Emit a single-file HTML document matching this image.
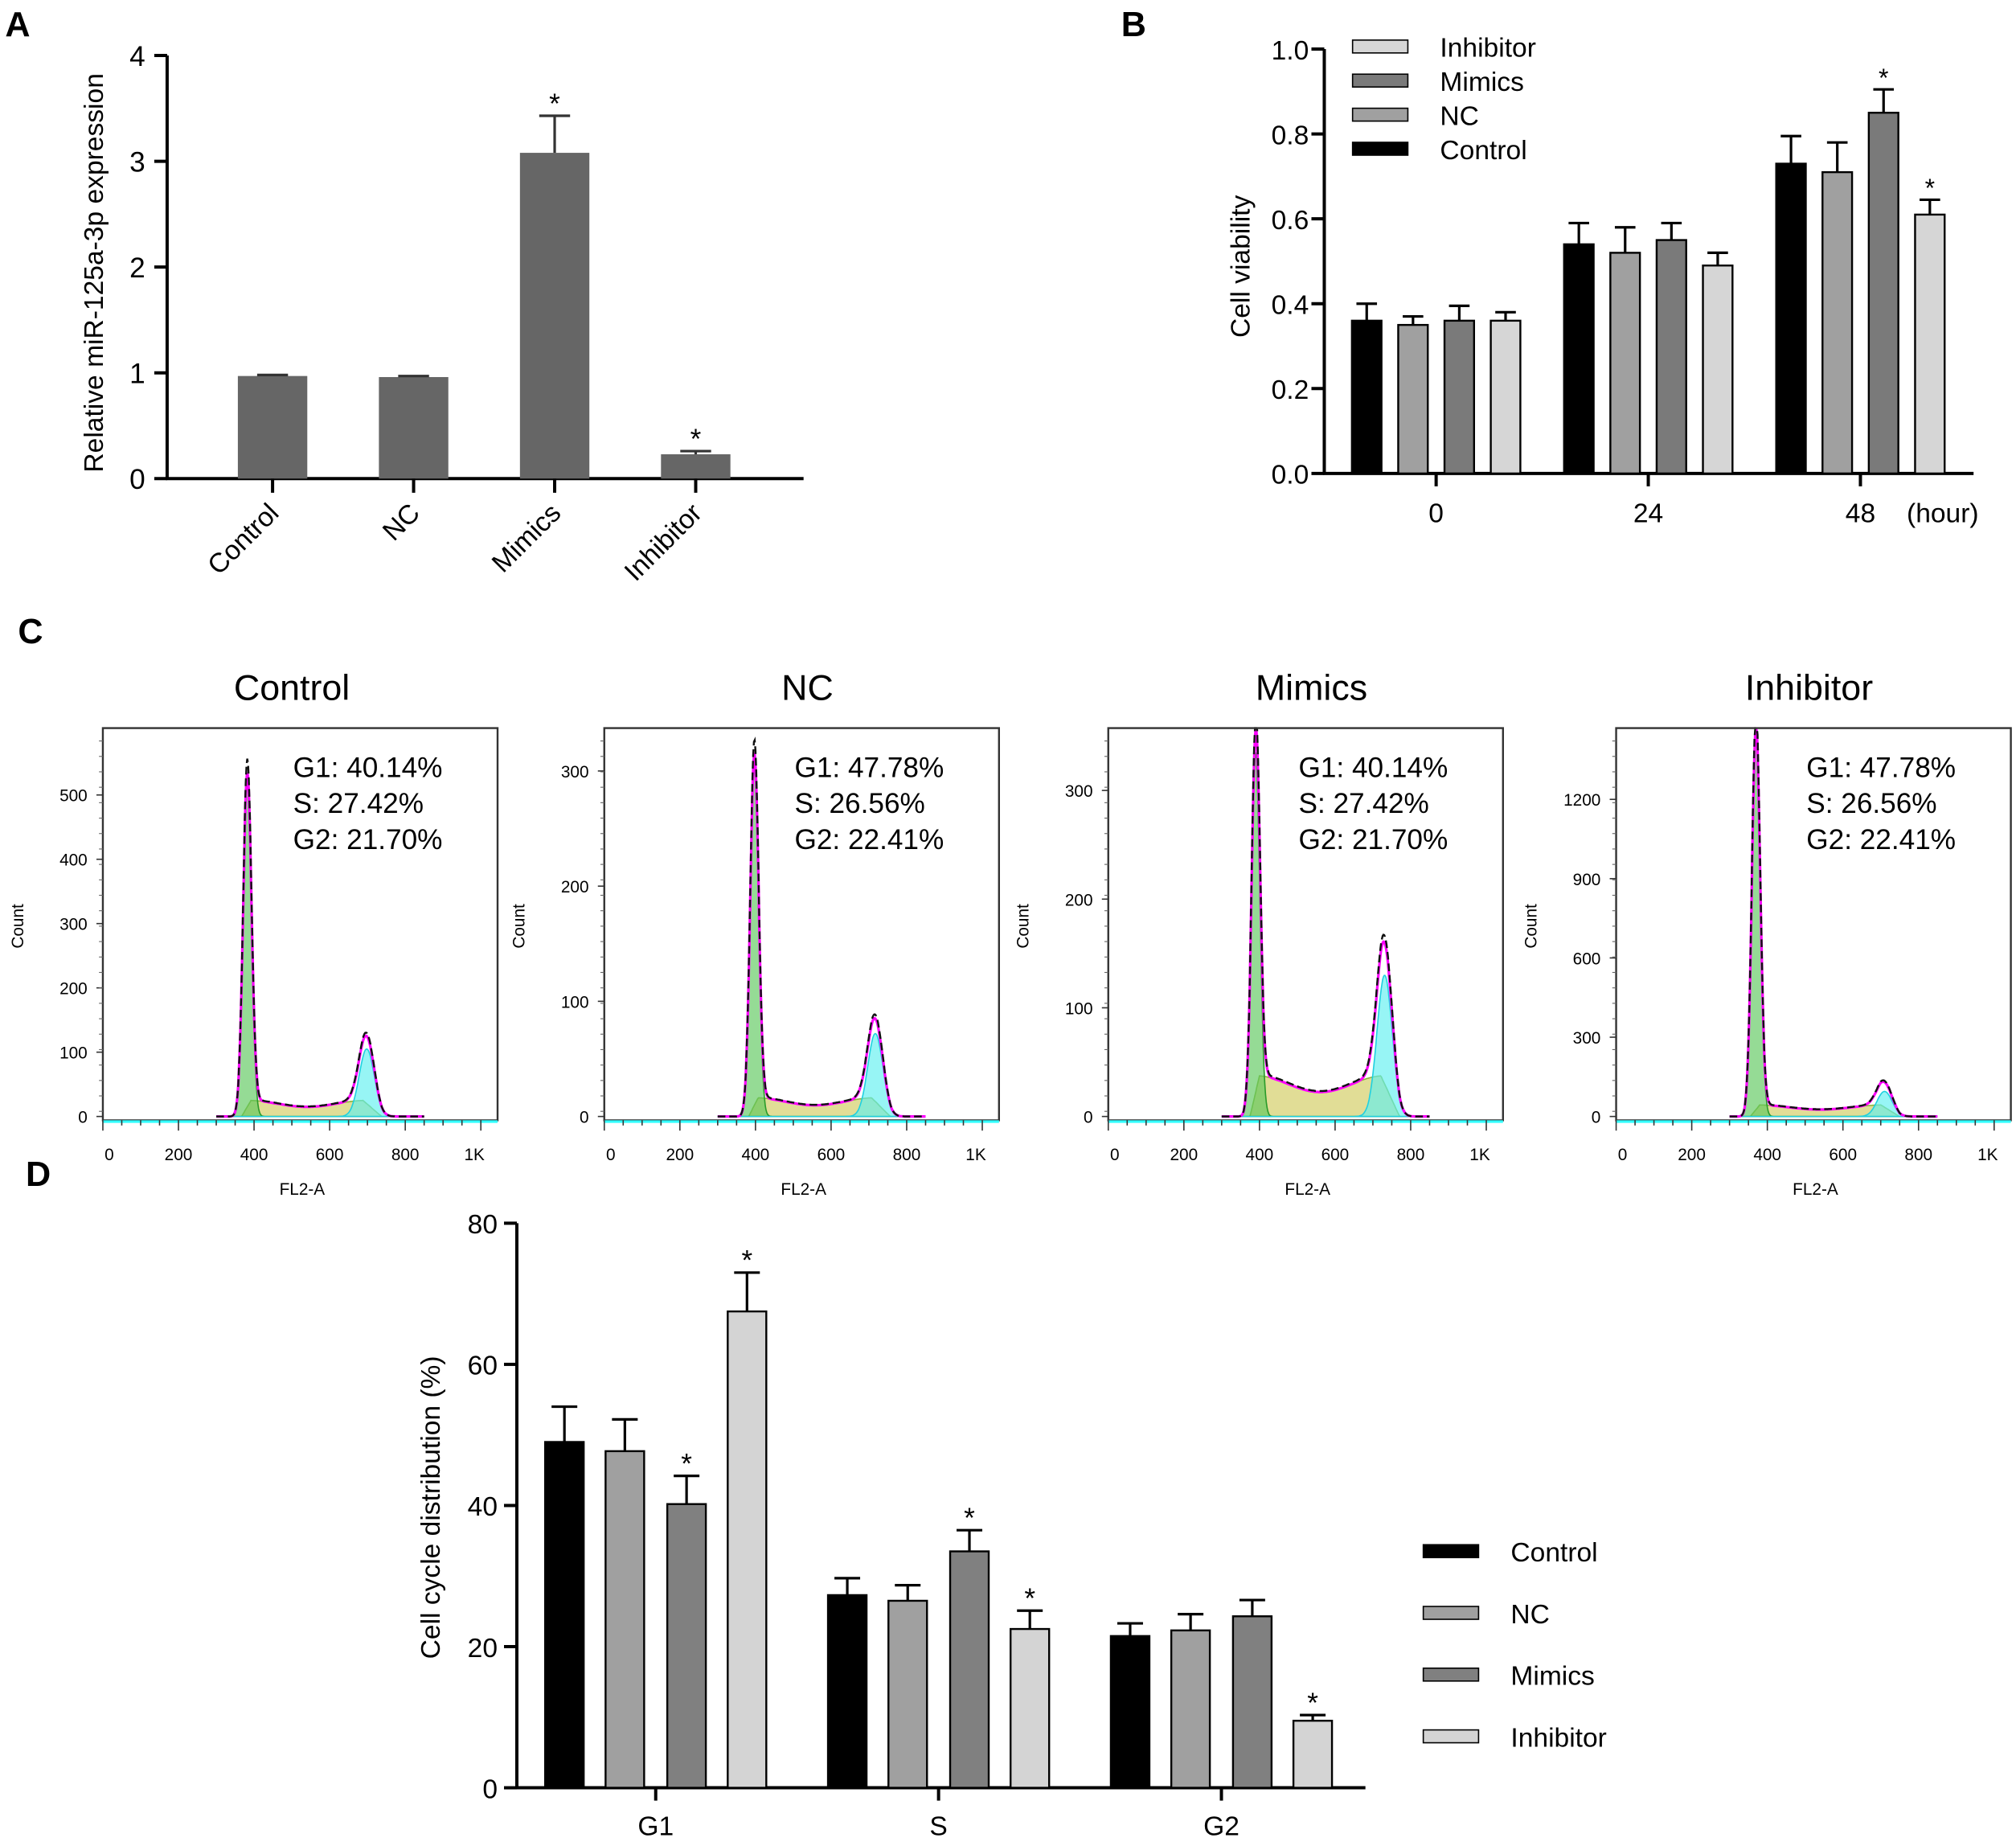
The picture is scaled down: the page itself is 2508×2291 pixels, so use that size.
<!DOCTYPE html>
<html><head><meta charset="utf-8"><style>
html,body{margin:0;padding:0;background:#fff;}
svg{display:block;font-family:"Liberation Sans",Arial,sans-serif;}
</style></head><body>
<svg id="fig" width="2508" height="2291" viewBox="0 0 1568 1432" xmlns="http://www.w3.org/2000/svg">
<g font-weight="bold" font-size="27">
<text x="4" y="28">A</text>
<text x="872" y="28">B</text>
<text x="14" y="500">C</text>
<text x="20" y="922">D</text>
</g>
<g id="A"></g>
<g id="B"></g>
<g id="C"></g>
<g id="D"></g>
</svg>
<script>
// Panel A data
const aCats=["Control","NC","Mimics","Inhibitor"];
const aVals=[0.97,0.96,3.08,0.23];
const aErrs=[0.01,0.01,0.35,0.03];
const aStars=[false,false,true,true];
const aTicks=[0,1,2,3,4];
// Panel B data
const bGroups=["0","24","48"];
const bSeries=["Control","NC","Mimics","Inhibitor"];
const bControl=[0.36,0.54,0.73];
const bNC=[0.35,0.52,0.71];
const bMimics=[0.36,0.55,0.85];
const bInhibitor=[0.36,0.49,0.61];
const bControlErr=[0.04,0.05,0.065];
const bNCErr=[0.02,0.06,0.07];
const bMimicsErr=[0.035,0.04,0.055];
const bInhibitorErr=[0.02,0.03,0.035];
const bTicks=["0.0","0.2","0.4","0.6","0.8","1.0"];
// Panel C data
const cTitles=["Control","NC","Mimics","Inhibitor"];
const cG1Text=["G1: 40.14%","G1: 47.78%","G1: 40.14%","G1: 47.78%"];
const cSText=["S: 27.42%","S: 26.56%","S: 27.42%","S: 26.56%"];
const cG2Text=["G2: 21.70%","G2: 22.41%","G2: 21.70%","G2: 22.41%"];
const cG1Peak=[520,305,335,1450];
const cG2Peak=[105,72,130,95];
const cSLevel=[20,13,30,35];
const cG1Pos=[382,397,390,370];
const cG2Pos=[698,717,731,710];
const cYTicks=[[0,100,200,300,400,500],[0,100,200,300],[0,100,200,300],[0,300,600,900,1200]];
const cYMax=[600,335,355,1460];
const cXTicks=["0","200","400","600","800","1K"];
// Panel D data
const dGroups=["G1","S","G2"];
const dSeries=["Control","NC","Mimics","Inhibitor"];
const dControl=[49,27.3,21.5];
const dNC=[47.7,26.5,22.3];
const dMimics=[40.2,33.5,24.3];
const dInhibitor=[67.5,22.5,9.5];
const dControlErr=[5,2.4,1.8];
const dNCErr=[4.5,2.2,2.3];
const dMimicsErr=[4,3,2.3];
const dInhibitorErr=[5.5,2.6,0.8];
const dStarMimics=[true,true,false];
const dStarInhibitor=[true,true,true];
const dTicks=[0,20,40,60,80];

const NS="http://www.w3.org/2000/svg";
function mk(parent,tag,attrs,text){const e=document.createElementNS(NS,tag);for(const k in attrs)e.setAttribute(k,attrs[k]);if(text!==undefined)e.textContent=text;parent.appendChild(e);return e;}

// ---------- Panel A ----------
(function(){
const g=document.getElementById('A');
const x0=130,x1=625,yb=372,yt=43;
const ys=v=>yb-(v/4)*(yb-yt);
const xc=i=>212+i*109.7;
let e;
e=mk(g,'line',{x1:x0,y1:yt,x2:x0,y2:yb+1,stroke:'#000','stroke-width':2.5});

e=mk(g,'line',{x1:x0-1,y1:yb,x2:x1,y2:yb,stroke:'#000','stroke-width':2.5});

aTicks.forEach(t=>{mk(g,'line',{x1:x0-10,y1:ys(t),x2:x0,y2:ys(t),stroke:'#000','stroke-width':2.5});
e=mk(g,'text',{x:x0-17,y:ys(t)+8,'text-anchor':'end','font-size':22},String(t));
});
e=mk(g,'text',{transform:'translate(80,212) rotate(-90)','text-anchor':'middle','font-size':21},'Relative miR-125a-3p expression');

aCats.forEach((c,i)=>{const cx=xc(i),w=54;
e=mk(g,'rect',{x:cx-w/2,y:ys(aVals[i]),width:w,height:yb-ys(aVals[i]),fill:'#666'});

const ty=ys(aVals[i]+aErrs[i]);
mk(g,'line',{x1:cx,y1:ys(aVals[i]),x2:cx,y2:ty,stroke:'#333','stroke-width':2});
mk(g,'line',{x1:cx-12,y1:ty,x2:cx+12,y2:ty,stroke:'#333','stroke-width':2});
if(aStars[i]){e=mk(g,'text',{x:cx,y:ty-2,'text-anchor':'middle','font-size':22},'*');
}
mk(g,'line',{x1:cx,y1:yb,x2:cx,y2:yb+11,stroke:'#000','stroke-width':2.5});
e=mk(g,'text',{transform:`translate(${cx+6},${yb+28}) rotate(-45)`,'text-anchor':'end','font-size':21},c);

});
})();

// ---------- Panel B ----------
(function(){
const g=document.getElementById('B');
const x0=1030,x1=1535,yb=368,yt=38;
const ys=v=>yb-v*(yb-yt);
const gc=i=>1117+i*165;
const offs=[-54,-18,18,54];
const cols=['#000','#a0a0a0','#7a7a7a','#d6d6d6'];
const vals=[bControl,bNC,bMimics,bInhibitor];
const errs=[bControlErr,bNCErr,bMimicsErr,bInhibitorErr];
let e;
e=mk(g,'line',{x1:x0,y1:yt,x2:x0,y2:yb+1,stroke:'#000','stroke-width':2.5});

e=mk(g,'line',{x1:x0-1,y1:yb,x2:x1,y2:yb,stroke:'#000','stroke-width':2.5});

bTicks.forEach(t=>{const y=ys(parseFloat(t));mk(g,'line',{x1:x0-10,y1:y,x2:x0,y2:y,stroke:'#000','stroke-width':2.5});
e=mk(g,'text',{x:x0-12,y:y+8,'text-anchor':'end','font-size':21},t);
});
e=mk(g,'text',{transform:'translate(972,207) rotate(-90)','text-anchor':'middle','font-size':21},'Cell viability');

bGroups.forEach((gr,i)=>{
bSeries.forEach((s,j)=>{const v=vals[j][i],cx=gc(i)+offs[j],w=23;
e=mk(g,'rect',{x:cx-w/2,y:ys(v),width:w,height:yb-ys(v),fill:cols[j],stroke:'#000','stroke-width':1.5});

const ty=ys(v+errs[j][i]);
mk(g,'line',{x1:cx,y1:ys(v),x2:cx,y2:ty,stroke:'#000','stroke-width':2});
mk(g,'line',{x1:cx-8,y1:ty,x2:cx+8,y2:ty,stroke:'#000','stroke-width':2});
if(i===2&&j>=2){e=mk(g,'text',{x:cx,y:ty-2,'text-anchor':'middle','font-size':20},'*');
}
});
mk(g,'line',{x1:gc(i),y1:yb,x2:gc(i),y2:yb+10,stroke:'#000','stroke-width':2.5});
e=mk(g,'text',{x:gc(i),y:yb+38,'text-anchor':'middle','font-size':21},gr);

});
e=mk(g,'text',{x:1483,y:406,'font-size':21},'(hour)');

const legOrder=[3,2,1,0];
legOrder.forEach((j,k)=>{const y=36+k*26.5;
e=mk(g,'rect',{x:1052,y:y-5,width:43,height:10,fill:cols[j],stroke:'#000','stroke-width':1});

e=mk(g,'text',{x:1120,y:y+8,'font-size':21},bSeries[j]);
});
})();

// ---------- Panel C ----------
(function(){
const G=document.getElementById('C');
const lefts=[80,470,862,1257];
const titleX=[227,628,1020,1407];
cTitles.forEach((t,p)=>{
const g=mk(G,'g',{});


const L=lefts[p],R=L+307,T=566,B=871,base=868;
const xs=v=>L+v*0.294;
const ys=v=>base-v/cYMax[p]*(base-T-2);
let e;
e=mk(g,'text',{x:titleX[p],y:544,'text-anchor':'middle','font-size':28},t);

const gauss=(x,m,s)=>Math.exp(-0.5*((x-m)/s)**2);
const g1=x=>cG1Peak[p]*gauss(x,cG1Pos[p],11);
const g2=x=>cG2Peak[p]*gauss(x,cG2Pos[p],20);
const sC=x=>{if(x<cG1Pos[p]-15||x>cG2Pos[p]+40)return 0;
 let v=cSLevel[p]*(1+0.25*Math.cos((x-cG1Pos[p])/(cG2Pos[p]-cG1Pos[p])*Math.PI*2));
 v*=Math.min(1,(x-(cG1Pos[p]-15))/25)*Math.min(1,(cG2Pos[p]+40-x)/50);return v;};
const pts=f=>{let s='';for(let x=300;x<=850;x+=2){s+=(s?'L':'M')+xs(x).toFixed(1)+','+Math.max(T,ys(f(x))).toFixed(1);}return s;};
const area=f=>pts(f)+`L${xs(850)},${base}L${xs(300)},${base}Z`;
e=mk(g,'path',{d:area(sC),fill:'#d4cf6a','fill-opacity':0.7,stroke:'#8cb43c','stroke-width':1});

e=mk(g,'path',{d:area(g1),fill:'#5cc85c','fill-opacity':0.65,stroke:'#2a9a2a','stroke-width':1});

e=mk(g,'path',{d:area(g2),fill:'#5ff0f0','fill-opacity':0.65,stroke:'#20d0e0','stroke-width':1});

const tot=x=>g1(x)+g2(x)+sC(x);
e=mk(g,'path',{d:pts(tot),fill:'none',stroke:'#ff00ff','stroke-width':2});

e=mk(g,'path',{d:pts(x=>tot(x)*1.04),fill:'none',stroke:'#111','stroke-width':1.5,'stroke-dasharray':'6,3'});

e=mk(g,'rect',{x:L,y:T,width:R-L,height:B-T,fill:'none',stroke:'#333','stroke-width':1.5});

mk(g,'line',{x1:L,y1:B+1,x2:R,y2:B+1,stroke:'#3ff','stroke-width':2});
for(let v=0;v<=1000;v+=50){mk(g,'line',{x1:xs(v),y1:B,x2:xs(v),y2:B+(v%200==0?8:4),stroke:'#333','stroke-width':1});}
cXTicks.forEach((lab,i)=>{e=mk(g,'text',{x:xs(i*200)+(i==0?5:0)+(i==5?-5:0),y:902,'text-anchor':'middle','font-size':13},lab);
});
e=mk(g,'text',{x:L+155,y:929,'text-anchor':'middle','font-size':13},'FL2-A');

cYTicks[p].forEach(v=>{mk(g,'line',{x1:L-5,y1:ys(v),x2:L,y2:ys(v),stroke:'#333','stroke-width':1});
e=mk(g,'text',{x:L-12,y:ys(v)+5,'text-anchor':'end','font-size':13},String(v));
});
for(let y=T+10;y<B;y+=12)mk(g,'line',{x1:L-3,y1:y,x2:L,y2:y,stroke:'#666','stroke-width':0.7});
e=mk(g,'text',{transform:`translate(${L-62},720) rotate(-90)`,'text-anchor':'middle','font-size':13},'Count');

[cG1Text[p],cSText[p],cG2Text[p]].forEach((s,k)=>{e=mk(g,'text',{x:L+148,y:604+k*28,'font-size':22},s);
});
});
})();

// ---------- Panel D ----------
(function(){
const g=document.getElementById('D');
const x0=402,x1=1062,yb=1390,yt=951;
const ys=v=>yb-v/80*(yb-yt);
const gc=i=>510+i*220;
const offs=[-71,-24,24,71];
const cols=['#000','#a0a0a0','#808080','#d4d4d4'];
const vals=[dControl,dNC,dMimics,dInhibitor];
const errs=[dControlErr,dNCErr,dMimicsErr,dInhibitorErr];
let e;
e=mk(g,'line',{x1:x0,y1:yt,x2:x0,y2:yb+1,stroke:'#000','stroke-width':2.5});

e=mk(g,'line',{x1:x0-1,y1:yb,x2:x1,y2:yb,stroke:'#000','stroke-width':2.5});

dTicks.forEach(t=>{mk(g,'line',{x1:x0-10,y1:ys(t),x2:x0,y2:ys(t),stroke:'#000','stroke-width':2.5});
e=mk(g,'text',{x:x0-15,y:ys(t)+8,'text-anchor':'end','font-size':21},String(t));
});
e=mk(g,'text',{transform:'translate(342,1172) rotate(-90)','text-anchor':'middle','font-size':21},'Cell cycle distribution (%)');

dGroups.forEach((gr,i)=>{
dSeries.forEach((s,j)=>{const v=vals[j][i],cx=gc(i)+offs[j],w=30;
e=mk(g,'rect',{x:cx-w/2,y:ys(v),width:w,height:yb-ys(v),fill:cols[j],stroke:'#000','stroke-width':1.5});

const ty=ys(v+errs[j][i]);
mk(g,'line',{x1:cx,y1:ys(v),x2:cx,y2:ty,stroke:'#000','stroke-width':2});
mk(g,'line',{x1:cx-10,y1:ty,x2:cx+10,y2:ty,stroke:'#000','stroke-width':2});
const star=(j==2&&dStarMimics[i])||(j==3&&dStarInhibitor[i]);
if(star){e=mk(g,'text',{x:cx,y:ty-2,'text-anchor':'middle','font-size':22},'*');
}
});
mk(g,'line',{x1:gc(i),y1:yb,x2:gc(i),y2:yb+10,stroke:'#000','stroke-width':2.5});
e=mk(g,'text',{x:gc(i),y:yb+37,'text-anchor':'middle','font-size':21},gr);

});
dSeries.forEach((s,j)=>{const y=1206+j*48;
e=mk(g,'rect',{x:1107,y:y-5,width:43,height:10,fill:cols[j],stroke:'#000','stroke-width':1});

e=mk(g,'text',{x:1175,y:y+8,'font-size':21},s);
});
})();
</script>
</body></html>
